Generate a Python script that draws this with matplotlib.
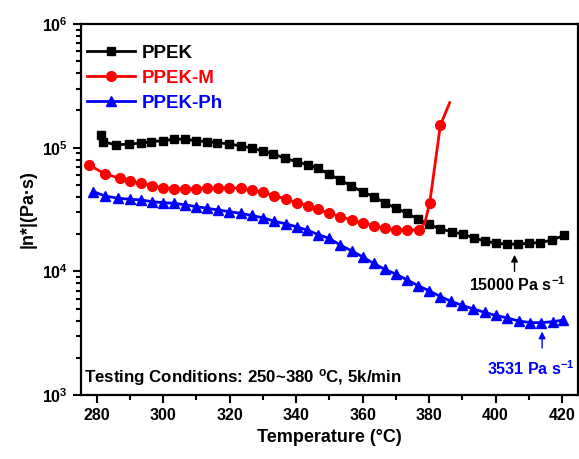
import math

import matplotlib
matplotlib.use("Agg")
import matplotlib.pyplot as plt
from matplotlib.ticker import FixedLocator, FuncFormatter, LogLocator, MultipleLocator, NullFormatter

plt.rcParams["font.family"] = ["Liberation Sans", "DejaVu Sans"]
plt.rcParams["font.weight"] = "bold"
plt.rcParams["mathtext.fontset"] = "custom"
plt.rcParams["mathtext.rm"] = "Liberation Sans:bold"
plt.rcParams["mathtext.bf"] = "Liberation Sans:bold"
plt.rcParams["mathtext.it"] = "Liberation Sans:bold"

# PPEK (black squares)
ppek_t = [281.2, 281.9, 285.8, 289.8, 293.3, 296.4, 300.1, 303.4, 306.6, 309.8,
          313.1, 316.3, 319.9, 323.5, 326.7, 330.0, 333.2, 336.7, 340.2, 343.6,
          346.7, 349.8, 353.3, 356.6, 360.0, 363.3, 366.6, 370.1, 373.4, 376.7,
          380.1, 383.4, 386.9, 390.1, 393.4, 396.7, 400.2, 403.5, 406.8, 410.2,
          413.5, 417.0, 420.5]
ppek_eta = [126800, 112000, 105200, 107200, 108600, 112000, 114000, 117000, 117000, 114000,
            112000, 109700, 107200, 103200, 98900, 94000, 88900, 82000, 77000, 72500,
            68100, 61200, 54800, 49000, 44000, 40200, 35900, 32400, 29500, 26400,
            24000, 22000, 20900, 20000, 18700, 17600, 16900, 16600, 16600, 16900,
            17100, 17900, 19500]

# PPEK-M (red circles); 378.7 and 386.2 are line-only points
ppekm_t = [277.8, 282.5, 287.0, 290.0, 293.3, 296.6, 300.1, 303.4, 306.6, 309.8,
           313.1, 316.4, 319.9, 323.5, 326.7, 330.0, 333.5, 337.0, 340.2, 343.6,
           346.6, 349.8, 353.3, 356.8, 360.0, 363.3, 366.6, 370.1, 373.4, 376.9,
           378.7, 380.2, 383.4, 386.2]
ppekm_eta = [72500, 61200, 56600, 53800, 51600, 49300, 47500, 46400, 46100, 46700,
             47000, 47500, 47500, 47000, 45500, 43600, 40700, 38500, 35900, 33800,
             31800, 29500, 27700, 26000, 24500, 23400, 22300, 21600, 21600, 21600,
             24500, 35900, 152000, 231000]
ppekm_marked = [i for i, t in enumerate(ppekm_t) if t not in (378.7, 386.2)]

# PPEK-Ph (blue triangles)
ppekph_t = [279.0, 282.5, 286.5, 290.0, 293.3, 296.6, 300.1, 303.4, 306.6, 309.8,
            313.1, 316.4, 319.9, 323.5, 326.7, 330.0, 333.5, 336.9, 340.2, 343.4,
            346.7, 349.9, 353.3, 356.8, 360.0, 363.3, 366.6, 370.1, 373.4, 376.7,
            380.1, 383.4, 386.7, 390.0, 393.3, 396.7, 400.1, 403.5, 406.9, 410.5,
            413.8, 417.3, 420.4]
ppekph_eta = [44100, 40700, 39000, 38300, 37800, 36600, 35900, 35500, 34500, 33400,
              32400, 31400, 30400, 29400, 28300, 27100, 25400, 24200, 22900, 21500,
              19800, 18500, 16300, 14600, 13100, 11600, 10400, 9480, 8520, 7660,
              6950, 6250, 5710, 5300, 4970, 4660, 4400, 4200, 3970, 3850,
              3850, 3920, 4040]

fig = plt.figure(figsize=(5.79, 4.59), dpi=100)
ax = fig.add_axes([0.1399, 0.1394, 0.8584, 0.8083])

ax.plot(ppek_t, ppek_eta, color="black", marker="s", ms=6, lw=2, label="PPEK")
ax.plot(ppekm_t, ppekm_eta, color="red", marker="o", ms=7, lw=2,
        markevery=ppekm_marked, label="PPEK-M")
ax.plot(ppekph_t, ppekph_eta, color="blue", marker="^", ms=7.5, lw=2, label="PPEK-Ph")

ax.set_yscale("log")
ax.set_xlim(275.3, 424.8)
ax.set_ylim(1e3, 1e6)

ax.xaxis.set_major_locator(MultipleLocator(20))
ax.xaxis.set_minor_locator(MultipleLocator(10))
ax.yaxis.set_major_locator(FixedLocator([1e3, 1e4, 1e5, 1e6]))
ax.yaxis.set_minor_locator(LogLocator(base=10, subs=range(2, 10)))
ax.yaxis.set_minor_formatter(NullFormatter())
ax.yaxis.set_major_formatter(FuncFormatter(lambda v, p: r"$\mathbf{10^{%d}}$" % round(math.log10(v))))

ax.tick_params(which="both", direction="out", top=False, right=False, width=1.5)
ax.tick_params(which="major", length=6, labelsize=11.5)
ax.tick_params(which="minor", length=3.5)
for lab in ax.get_xticklabels():
    lab.set_fontweight("bold")
for s in ax.spines.values():
    s.set_linewidth(1.6)

ax.set_xlabel("Temperature (°C)", fontsize=13, fontweight="bold")
ax.set_ylabel("|n*|(Pa·s)", fontsize=13, fontweight="bold")

leg = ax.legend(loc="upper left", bbox_to_anchor=(-0.015, 0.98), frameon=False,
                handlelength=2.6, handletextpad=0.35, borderaxespad=0.3,
                labelspacing=0.42, prop={"weight": "bold", "size": 13.5})
for txt, c in zip(leg.get_texts(), ["black", "red", "blue"]):
    txt.set_color(c)

ax.annotate("", xy=(405.7, 13600), xytext=(405.7, 10000),
            arrowprops=dict(arrowstyle="-|>", color="black", lw=1, mutation_scale=10,
                            shrinkA=0, shrinkB=0))
ax.text(406.5, 9300, r"15000 Pa s$^{-1}$", ha="center", va="top", fontsize=11.5,
        fontweight="bold", color="black")

ax.annotate("", xy=(414.0, 3260), xytext=(414.0, 2400),
            arrowprops=dict(arrowstyle="-|>", color="blue", lw=1, mutation_scale=10,
                            shrinkA=0, shrinkB=0))
ax.text(410.5, 1950, r"3531 Pa s$^{-1}$", ha="center", va="top", fontsize=11.5,
        fontweight="bold", color="blue")

ax.text(0.006, 0.047, "Testing Conditions: 250~380 $^{o}$C, 5k/min", transform=ax.transAxes,
        ha="left", va="center", fontsize=12.2, fontweight="bold")

fig.savefig("out.png", dpi=100)
